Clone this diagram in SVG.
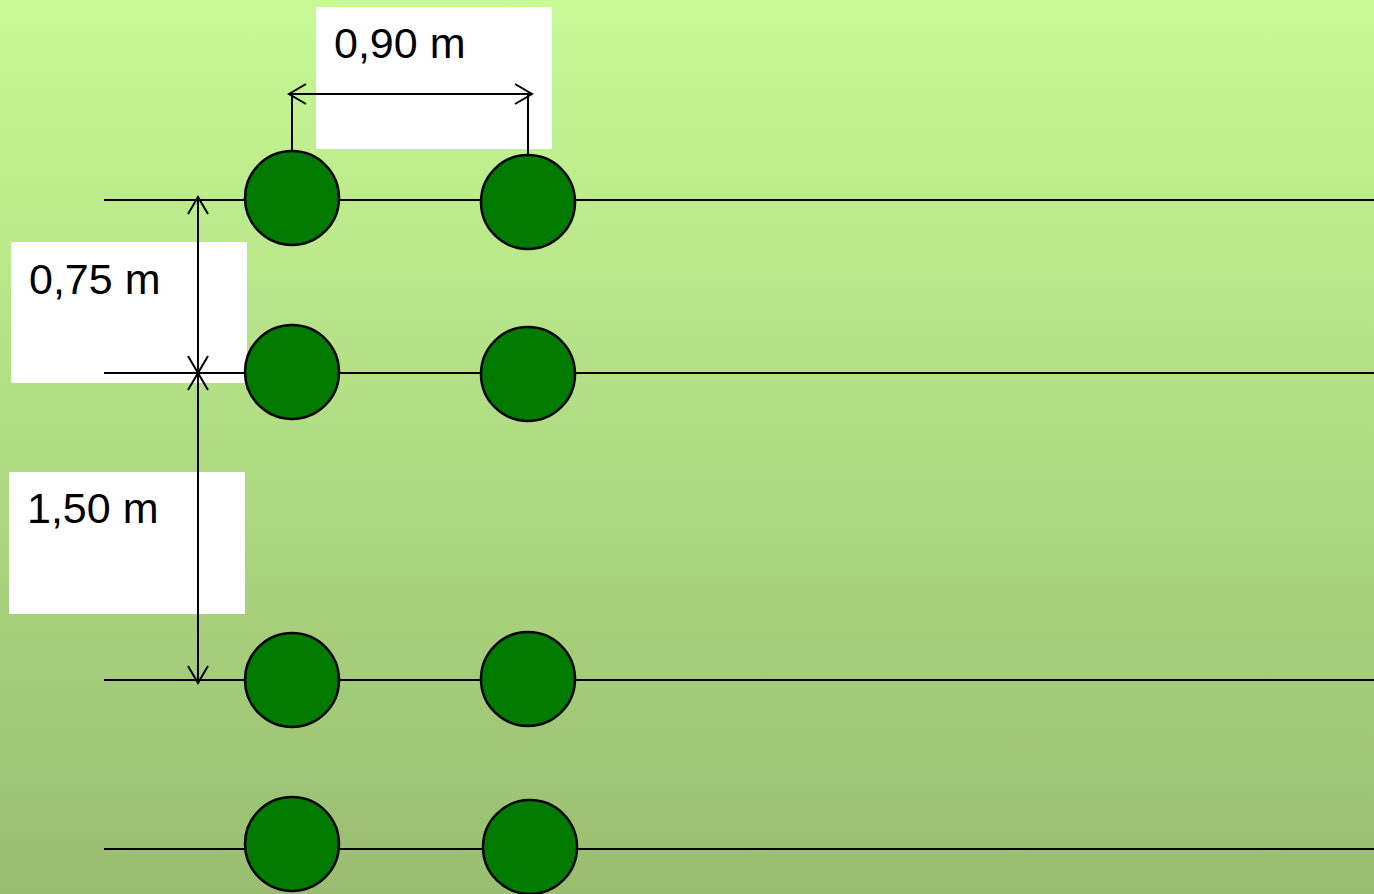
<svg xmlns="http://www.w3.org/2000/svg" width="1374" height="894" viewBox="0 0 1374 894">
<defs>
<linearGradient id="bg" x1="0" y1="0" x2="0" y2="1">
<stop offset="0" stop-color="#c7f995"/>
<stop offset="1" stop-color="#99bd71"/>
</linearGradient>
<marker id="open" viewBox="-20 -12 22 24" refX="0" refY="0" markerWidth="22" markerHeight="24" markerUnits="userSpaceOnUse" orient="auto-start-reverse">
<path d="M-17,-10 L0,0 L-17,10" fill="none" stroke="#000" stroke-width="2"/>
</marker>
<style>
.row{stroke:#000;stroke-width:2;fill:none}
.dim{stroke:#000;stroke-width:2;fill:none}
.plant{fill:#007b00;stroke:#000;stroke-width:2.5}
.lbl{fill:#fff}
.t{font-family:"Liberation Sans",Arial,sans-serif;font-size:43px;fill:#000}
</style>
</defs>
<rect width="1374" height="894" fill="url(#bg)"/>
<g id="label-090"><rect class="lbl" x="316" y="7" width="236" height="142"/><text class="t" x="334" y="58">0,90 m</text></g>
<g id="label-075"><rect class="lbl" x="11" y="242" width="236" height="141"/><text class="t" x="29" y="294">0,75 m</text></g>
<g id="label-150"><rect class="lbl" x="9" y="472" width="236" height="142"/><text class="t" x="27" y="523">1,50 m</text></g>
<g id="connectors">
<line class="row" x1="104" y1="200" x2="1374" y2="200"/>
<line class="row" x1="104" y1="373" x2="1374" y2="373"/>
<line class="row" x1="104" y1="680" x2="1374" y2="680"/>
<line class="row" x1="104" y1="849" x2="1374" y2="849"/>
<line class="dim" x1="292" y1="94" x2="292" y2="151"/>
<line class="dim" x1="528" y1="94" x2="528" y2="155"/>
<line class="dim" x1="289" y1="94" x2="532" y2="94" marker-start="url(#open)" marker-end="url(#open)"/>
<line class="dim" x1="198" y1="197" x2="198" y2="373" marker-start="url(#open)" marker-end="url(#open)"/>
<line class="dim" x1="198" y1="373" x2="198" y2="683" marker-start="url(#open)" marker-end="url(#open)"/>
</g>
<g id="plant-1-1"><circle class="plant" cx="292" cy="198" r="47"/></g>
<g id="plant-1-2"><circle class="plant" cx="528" cy="202" r="47"/></g>
<g id="plant-2-1"><circle class="plant" cx="292" cy="372" r="47"/></g>
<g id="plant-2-2"><circle class="plant" cx="528" cy="374" r="47"/></g>
<g id="plant-3-1"><circle class="plant" cx="292" cy="680" r="47"/></g>
<g id="plant-3-2"><circle class="plant" cx="528" cy="679" r="47"/></g>
<g id="plant-4-1"><circle class="plant" cx="292" cy="844" r="47"/></g>
<g id="plant-4-2"><circle class="plant" cx="530" cy="847" r="47"/></g>
</svg>
